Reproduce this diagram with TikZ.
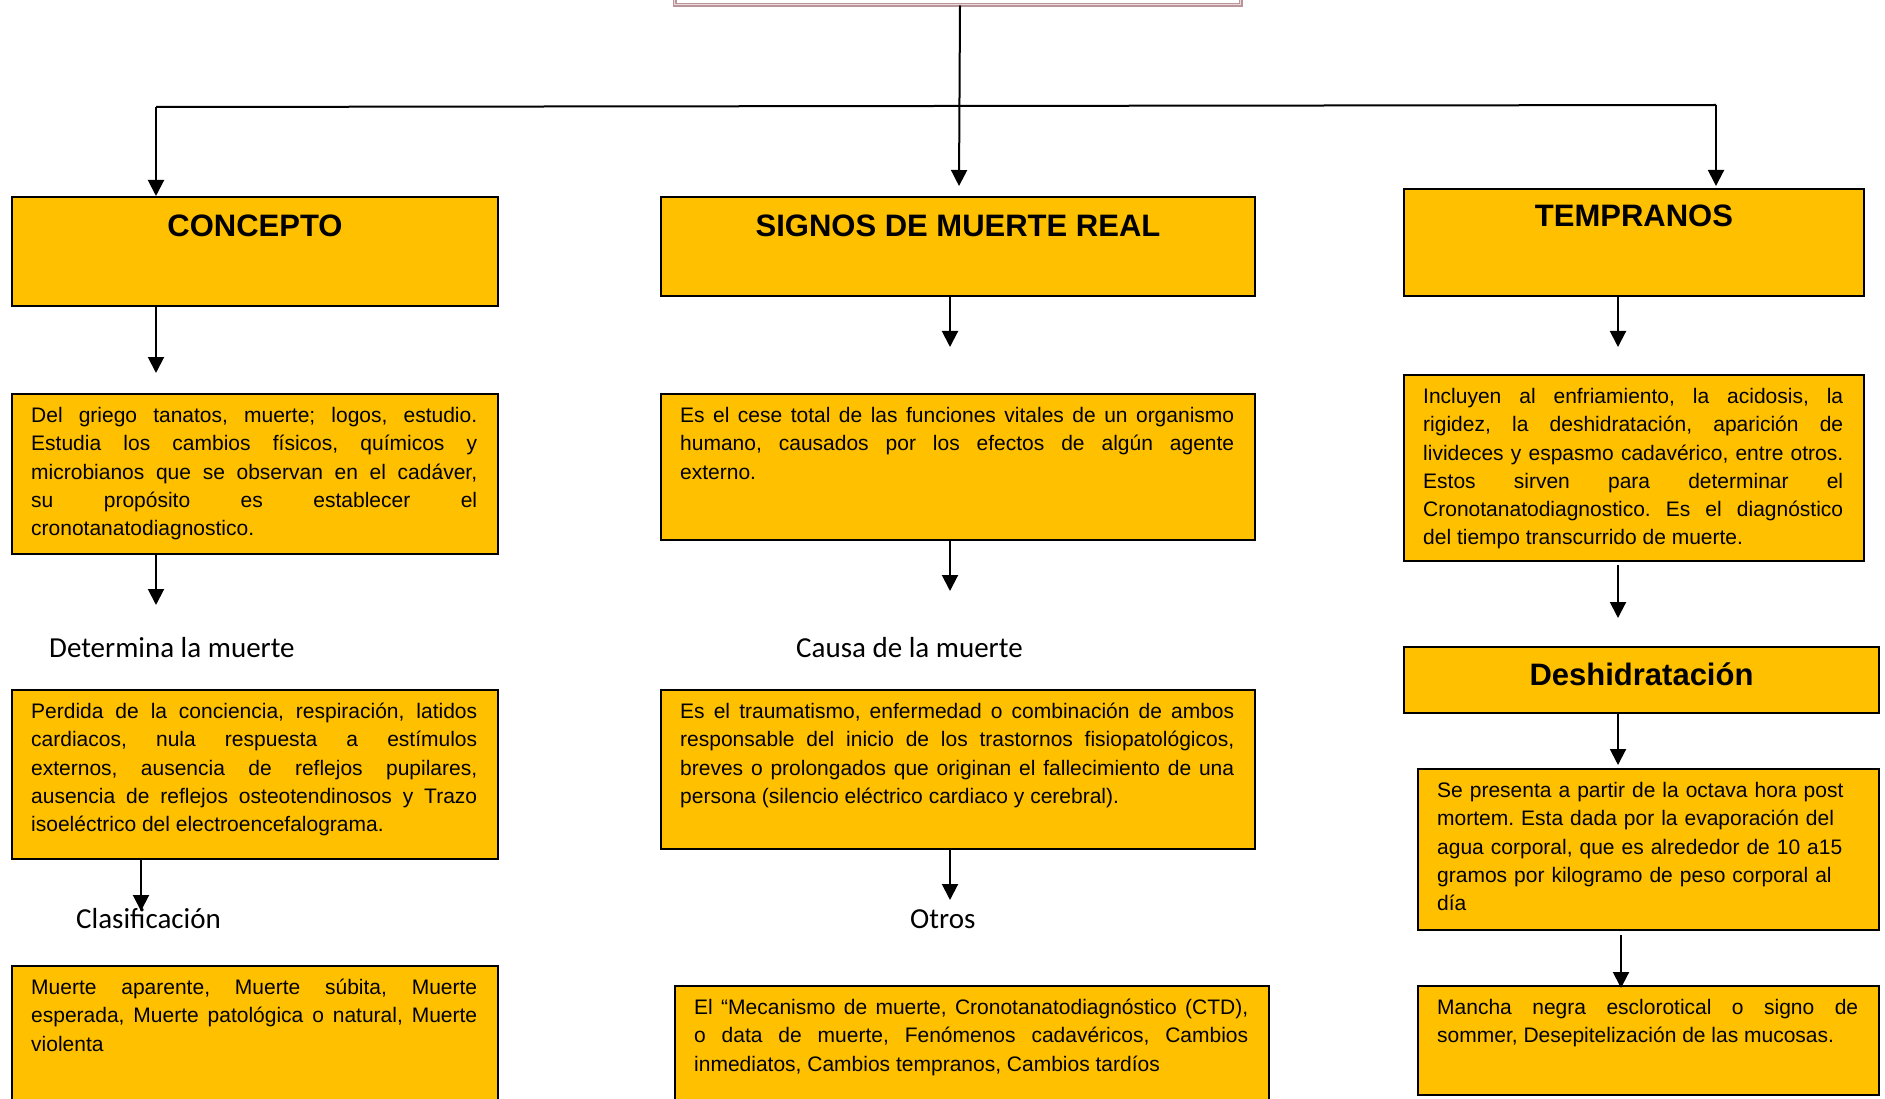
\documentclass[tikz,border=0pt]{standalone}
\usepackage{fontspec}
\setmainfont{Liberation Sans}
\newfontfamily\etiqueta{Carlito}
\usetikzlibrary{arrows.meta, positioning}
\frenchspacing

\definecolor{oro}{HTML}{FFC000}
\definecolor{malva}{HTML}{B9959A}
\definecolor{malvaclaro}{HTML}{EBDADC}

\tikzset{
	caja/.style={draw=black, line width=2pt, fill=oro, anchor=north west, inner sep=0pt},
	titulo/.style={anchor=base, inner sep=0pt, font=\fontsize{31}{36}\selectfont\bfseries},
	texto/.style={inner xsep=20pt, inner ysep=14pt, align=justify, font=\fontsize{21}{28.3}\selectfont},
	rotulo/.style={anchor=base west, inner sep=0pt, font=\etiqueta\fontsize{29}{34}\selectfont},
	flecha/.style={line width=2pt, -{Triangle[width=16pt,length=16pt]}},
	linea/.style={line width=2pt}
}

\begin{document}
\begin{tikzpicture}[x=1pt, y=-1pt]
	\useasboundingbox (0,0) rectangle (1885,1099);

	% caja superior (cortada)
	\node[draw=malva, line width=1.5pt, double=malvaclaro, double distance=0.8pt, fill=white,
		anchor=north west, minimum width=566pt, minimum height=50pt, inner sep=0pt]
		(raiz) at (674,-46) {};

	% columna izquierda
	\node[caja, minimum width=486pt, minimum height=109pt] (concepto) at (11,196) {};
	\node[titulo] (tconcepto) at ([yshift=-41pt]concepto.north) {CONCEPTO};
	\node[caja, minimum width=486pt, minimum height=160pt] (defcon) at (11,393) {};
	\node[texto, text width=446pt, below right=0pt of defcon.north west] (tdefcon)
		{Del griego tanatos, muerte; logos, estudio. \linebreak
		Estudia los cambios físicos, químicos y \linebreak
		microbianos que se observan en el cadáver, \linebreak
		su propósito es establecer el \linebreak
		cronotanatodiagnostico.};
	\node[rotulo] (determina) at (49,657) {Determina la muerte};
	\node[caja, minimum width=486pt, minimum height=169pt] (perdida) at (11,689) {};
	\node[texto, text width=446pt, below right=0pt of perdida.north west] (tperdida)
		{Perdida de la conciencia, respiración, latidos \linebreak
		cardiacos, nula respuesta a estímulos \linebreak
		externos, ausencia de reflejos pupilares, \linebreak
		ausencia de reflejos osteotendinosos y Trazo \linebreak
		isoeléctrico del electroencefalograma.};
	\node[rotulo] (clasif) at (76,928) {Clasificación};
	\node[caja, minimum width=486pt, minimum height=150pt] (clases) at (11,965) {};
	\node[texto, text width=446pt, below right=0pt of clases.north west] (tclases)
		{Muerte aparente, Muerte súbita, Muerte \linebreak
		esperada, Muerte patológica o natural, Muerte \linebreak
		violenta};

	% columna central
	\node[caja, minimum width=594pt, minimum height=99pt] (signos) at (660,196) {};
	\node[titulo] (tsignos) at ([yshift=-41pt]signos.north) {SIGNOS DE MUERTE REAL};
	\node[caja, minimum width=594pt, minimum height=146pt] (defsig) at (660,393) {};
	\node[texto, text width=554pt, below right=0pt of defsig.north west] (tdefsig)
		{Es el cese total de las funciones vitales de un organismo \linebreak
		humano, causados por los efectos de algún agente \linebreak
		externo.};
	\node[rotulo] (causa) at (796,657) {Causa de la muerte};
	\node[caja, minimum width=594pt, minimum height=159pt] (trauma) at (660,689) {};
	\node[texto, text width=554pt, below right=0pt of trauma.north west] (ttrauma)
		{Es el traumatismo, enfermedad o combinación de ambos \linebreak
		responsable del inicio de los trastornos fisiopatológicos, \linebreak
		breves o prolongados que originan el fallecimiento de una \linebreak
		persona (silencio eléctrico cardiaco y cerebral).};
	\node[rotulo] (otros) at (910,928) {Otros};
	\node[caja, minimum width=594pt, minimum height=130pt] (mecanismo) at (674,985) {};
	\node[texto, text width=554pt, below right=0pt of mecanismo.north west] (tmecanismo)
		{El “Mecanismo de muerte, Cronotanatodiagnóstico (CTD), \linebreak
		o data de muerte, Fenómenos cadavéricos, Cambios \linebreak
		inmediatos, Cambios tempranos, Cambios tardíos};

	% columna derecha
	\node[caja, minimum width=460pt, minimum height=107pt] (tempranos) at (1403,188) {};
	\node[titulo] (ttempranos) at ([yshift=-39pt]tempranos.north) {TEMPRANOS};
	\node[caja, minimum width=460pt, minimum height=186pt] (deftem) at (1403,374) {};
	\node[texto, text width=420pt, below right=0pt of deftem.north west] (tdeftem)
		{Incluyen al enfriamiento, la acidosis, la \linebreak
		rigidez, la deshidratación, aparición de \linebreak
		livideces y espasmo cadavérico, entre otros. \linebreak
		Estos sirven para determinar el \linebreak
		Cronotanatodiagnostico. Es el diagnóstico \linebreak
		del tiempo transcurrido de muerte.};
	\node[caja, minimum width=475pt, minimum height=66pt] (deshid) at (1403,646) {};
	\node[titulo] (tdeshid) at ([yshift=-39pt]deshid.north) {Deshidratación};
	\node[caja, minimum width=461pt, minimum height=161pt] (presenta) at (1417,768) {};
	\node[texto, align=left, text width=421pt, below right=0pt of presenta.north west] (tpresenta)
		{Se presenta a partir de la octava hora post\\
		mortem. Esta dada por la evaporación del\\
		agua corporal, que es alrededor de 10 a15\\
		gramos por kilogramo de peso corporal al\\
		día};
	\node[caja, minimum width=461pt, minimum height=109pt] (mancha) at (1417,985) {};
	\node[texto, text width=421pt, below right=0pt of mancha.north west] (tmancha)
		{Mancha negra esclorotical o signo de \linebreak
		sommer, Desepitelización de las mucosas.};

	% puntos libres de las flechas
	\coordinate (izq) at (156,107);
	\coordinate (der) at (1716,105);
	\coordinate (c0) at (959,186);
	\coordinate (c1) at (156,373);
	\coordinate (c2) at (156,605);
	\coordinate (c3) at (141,911);
	\coordinate (m1) at (950,347);
	\coordinate (m2) at (950,591);
	\coordinate (m3) at (950,900);
	\coordinate (d1) at (1618,347);
	\coordinate (d2a) at (1618,565);
	\coordinate (d2) at (1618,618);
	\coordinate (d3) at (1618,765);
	\coordinate (d4a) at (1621,935);
	\coordinate (d4) at (1621,988);

	% conectores
	\draw[flecha] (raiz.south -| 960,0) -- (c0);
	\draw[linea] (izq) -- (der);
	\draw[flecha] (izq) -- (concepto.north -| izq);
	\draw[flecha] (der) -- ([yshift=2pt]tempranos.north -| der);

	\draw[flecha] (concepto.south -| c1) -- (c1);
	\draw[flecha] (defcon.south -| c2) -- (c2);
	\draw[flecha] (perdida.south -| c3) -- (c3);

	\draw[flecha] (signos.south -| m1) -- (m1);
	\draw[flecha] (defsig.south -| m2) -- (m2);
	\draw[flecha] (trauma.south -| m3) -- (m3);

	\draw[flecha] (tempranos.south -| d1) -- (d1);
	\draw[flecha] (d2a) -- (d2);
	\draw[flecha] (deshid.south -| d3) -- (d3);
	\draw[flecha] (d4a) -- (d4);
\end{tikzpicture}
\end{document}
